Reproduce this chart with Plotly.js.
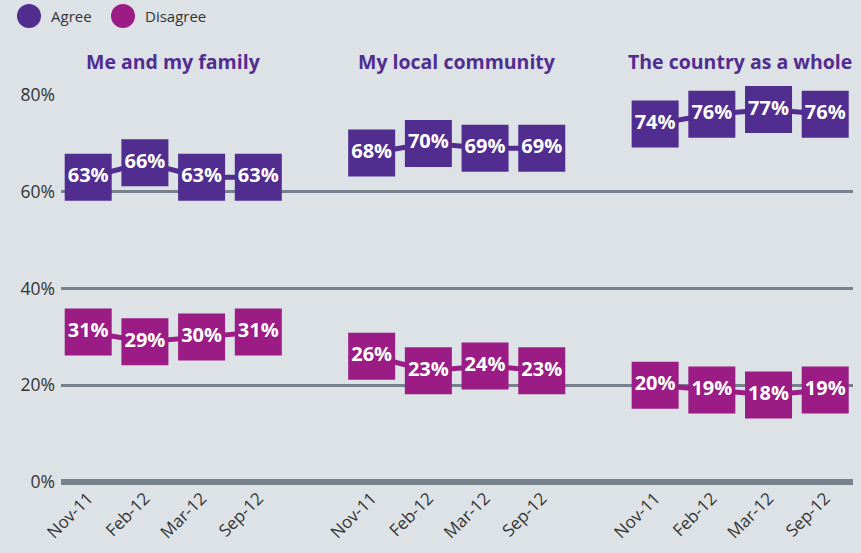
<!DOCTYPE html>
<html>
<head>
<meta charset="utf-8">
<script src="https://cdn.plot.ly/plotly-3.0.1.min.js"></script>
<style>
  html, body { margin: 0; padding: 0; background: #dde2e6; }
  #chart { width: 861px; height: 553px; }
</style>
</head>
<body>
<div id="chart"></div>
<script>
// survey data
const groups = ["Me and my family", "My local community", "The country as a whole"];
const months = ["Nov-11", "Feb-12", "Mar-12", "Sep-12"];
const agree = [
  [63, 66, 63, 63],
  [68, 70, 69, 69],
  [74, 76, 77, 76],
];
const disagree = [
  [31, 29, 30, 31],
  [26, 23, 24, 23],
  [20, 19, 18, 19],
];
const yTicks = [0, 20, 40, 60, 80];

const agreeColor = "#512d90";
const disagreeColor = "#9a1c84";
const fontFamily = "'Open Sans', 'Noto Sans', sans-serif";

// each group takes 4 slots plus one empty slot as a gap
const slot = (g, i) => g * (months.length + 1) + i;

function seriesTrace(values, g, name, color) {
  return {
    x: months.map((m, i) => slot(g, i)),
    y: values,
    text: values.map((v) => v + "%"),
    name,
    type: "scatter",
    mode: "lines+markers+text",
    textposition: "middle center",
    textfont: { family: fontFamily, size: 20, color: "#ffffff", weight: 700 },
    line: { color, width: 5 },
    marker: { symbol: "square", size: 47, color },
    cliponaxis: false,
    showlegend: false,
    hoverinfo: "skip",
  };
}

const data = [];
groups.forEach((grp, g) => {
  data.push(seriesTrace(agree[g], g, "Agree", agreeColor));
  data.push(seriesTrace(disagree[g], g, "Disagree", disagreeColor));
});

const tickvals = [];
const ticktext = [];
groups.forEach((grp, g) => {
  months.forEach((m, i) => {
    tickvals.push(slot(g, i));
    ticktext.push(m);
  });
});

// group headings above each block
const annotations = groups.map((grp, g) => ({
  text: "<b>" + grp + "</b>",
  x: slot(g, (months.length - 1) / 2),
  xref: "x",
  y: 1,
  yref: "paper",
  yanchor: "bottom",
  yshift: 18,
  showarrow: false,
  font: { family: fontFamily, size: 19.5, color: agreeColor },
}));

// legend drawn by hand: circles + labels
const legendItems = [
  { label: "Agree", color: agreeColor, x: 29 },
  { label: "Disagree", color: disagreeColor, x: 123 },
];
const shapes = [];
legendItems.forEach((it) => {
  shapes.push({
    type: "circle",
    xref: "paper",
    yref: "paper",
    xsizemode: "pixel",
    ysizemode: "pixel",
    xanchor: 0,
    yanchor: 1,
    x0: it.x - 61 - 12,
    x1: it.x - 61 + 12,
    y0: 95 - 16 - 12,
    y1: 95 - 16 + 12,
    fillcolor: it.color,
    line: { width: 0 },
  });
  annotations.push({
    text: it.label,
    xref: "paper",
    yref: "paper",
    x: 0,
    y: 1,
    xanchor: "left",
    yanchor: "middle",
    xshift: it.x - 61 + 20,
    yshift: 95 - 16,
    showarrow: false,
    font: { family: fontFamily, size: 15, color: "#333333" },
  });
});

const layout = {
  width: 861,
  height: 553,
  margin: { l: 61, r: 8, t: 95, b: 71 },
  paper_bgcolor: "#dde2e6",
  plot_bgcolor: "#dde2e6",
  showlegend: false,
  xaxis: {
    range: [-0.48, 13.49],
    tickvals,
    ticktext,
    tickangle: -45,
    showgrid: false,
    zeroline: false,
    showline: false,
    ticks: "",
    ticklabelstandoff: 2,
    tickfont: { family: fontFamily, size: 17, color: "#333333" },
    fixedrange: true,
  },
  yaxis: {
    range: [0, 80],
    tickvals: yTicks,
    ticktext: yTicks.map((v) => v + "%"),
    showgrid: true,
    gridcolor: "#76818c",
    gridwidth: 3,
    zeroline: true,
    zerolinecolor: "#76818c",
    zerolinewidth: 6,
    showline: false,
    ticks: "",
    ticklabelstandoff: 5,
    tickfont: { family: fontFamily, size: 17.5, color: "#333333" },
    fixedrange: true,
  },
  annotations,
  shapes,
};

Plotly.newPlot("chart", data, layout, { displayModeBar: false, staticPlot: true });
</script>
</body>
</html>
